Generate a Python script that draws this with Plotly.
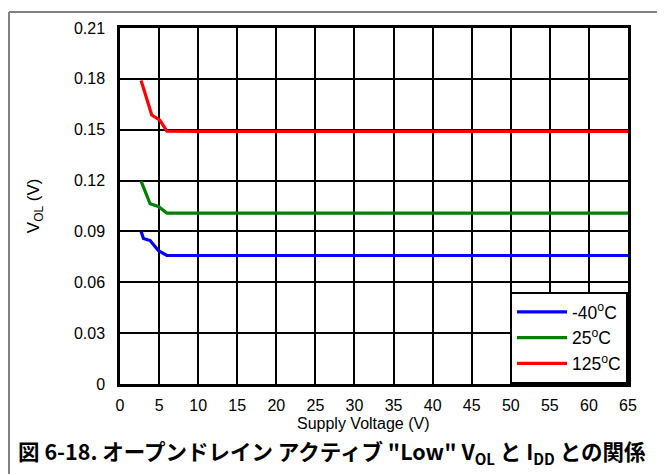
import plotly.graph_objects as go

# Supply voltage (V) and VOL (V) per temperature
v_m40 = [2.7, 3.0, 3.85, 4.9, 6.0, 10, 20, 30, 40, 50, 60, 65]
vol_m40 = [0.090, 0.0858, 0.0846, 0.0787, 0.0758, 0.0758, 0.0758, 0.0758, 0.0758, 0.0758, 0.0758, 0.0758]

v_25 = [2.7, 3.85, 4.9, 6.0, 10, 20, 30, 40, 50, 60, 65]
vol_25 = [0.1197, 0.1063, 0.1047, 0.1008, 0.1008, 0.1008, 0.1008, 0.1008, 0.1008, 0.1008, 0.1008]

v_125 = [2.7, 4.06, 5.1, 6.0, 10, 20, 30, 40, 50, 60, 65]
vol_125 = [0.179, 0.1587, 0.1556, 0.1492, 0.149, 0.149, 0.149, 0.149, 0.149, 0.149, 0.149]

x_ticks = list(range(0, 66, 5))
y_ticks = [0, 0.03, 0.06, 0.09, 0.12, 0.15, 0.18, 0.21]
y_tick_labels = ["0", "0.03", "0.06", "0.09", "0.12", "0.15", "0.18", "0.21"]

series = [
    ("-40<sup>o</sup>C", v_m40, vol_m40, "#0000ff"),
    ("25<sup>o</sup>C", v_25, vol_25, "#008000"),
    ("125<sup>o</sup>C", v_125, vol_125, "#ff0000"),
]

fig = go.Figure()
for name, xs, ys, color in series:
    fig.add_trace(go.Scatter(x=xs, y=ys, mode="lines", name=name,
                             line=dict(color=color, width=3.2)))

font_main = "Liberation Sans, Arial, sans-serif"

# page has an 8px body margin; figure is sized/placed to compensate
fig.update_layout(
    width=657, height=466,
    margin=dict(l=112, r=37, t=17, b=90),
    paper_bgcolor="white", plot_bgcolor="white",
    font=dict(family=font_main, size=16, color="black"),
    showlegend=True,
    legend=dict(x=1, y=0, xanchor="right", yanchor="bottom",
                bordercolor="black", borderwidth=2, bgcolor="white",
                font=dict(size=17.5), tracegroupgap=0, itemwidth=50),
    xaxis=dict(range=[0, 65], tickvals=x_ticks, showgrid=True,
               gridcolor="black", gridwidth=1.5, showline=True,
               linecolor="black", linewidth=2.5, mirror=True,
               zeroline=False, ticks="", ticklen=0, ticklabelstandoff=5,
               tickfont=dict(size=16)),
    yaxis=dict(range=[0, 0.21], tickvals=y_ticks, ticktext=y_tick_labels,
               showgrid=True, gridcolor="black", gridwidth=1.5,
               showline=True, linecolor="black", linewidth=2.5,
               mirror=True, zeroline=False, ticks="", ticklen=0,
               ticklabelstandoff=9, tickfont=dict(size=16)),
)

# axis titles
fig.add_annotation(text="Supply Voltage (V)", xref="paper", yref="paper",
                   x=0.479, y=-0.112, xanchor="center", yanchor="middle",
                   showarrow=False, font=dict(size=16, color="black"))
fig.add_annotation(text="V<sub>OL</sub> (V)", xref="paper", yref="paper",
                   x=-0.167, y=0.5, xanchor="center", yanchor="middle",
                   textangle=-90, showarrow=False,
                   font=dict(size=17, color="black"))

# frame lines of the figure
fig.add_shape(type="line", xref="paper", yref="paper",
              x0=-0.2185, x1=1.08, y0=1.0446, y1=1.0446,
              line=dict(color="#808080", width=2))
fig.add_shape(type="line", xref="paper", yref="paper",
              x0=-0.2185, x1=-0.2185, y0=1.0446, y1=-0.26,
              line=dict(color="#808080", width=2))

fig.add_annotation(
    text="<b>図 6-18. オープンドレイン アクティブ \"Low\" V<sub>OL</sub> と I<sub>DD</sub> との関係</b>",
    xref="paper", yref="paper", x=0.417, y=-0.19, xanchor="center",
    yanchor="middle", showarrow=False,
    font=dict(family="Noto Sans CJK JP, Liberation Sans, sans-serif",
              size=21.5, color="black"))

fig.write_html("out.html")
